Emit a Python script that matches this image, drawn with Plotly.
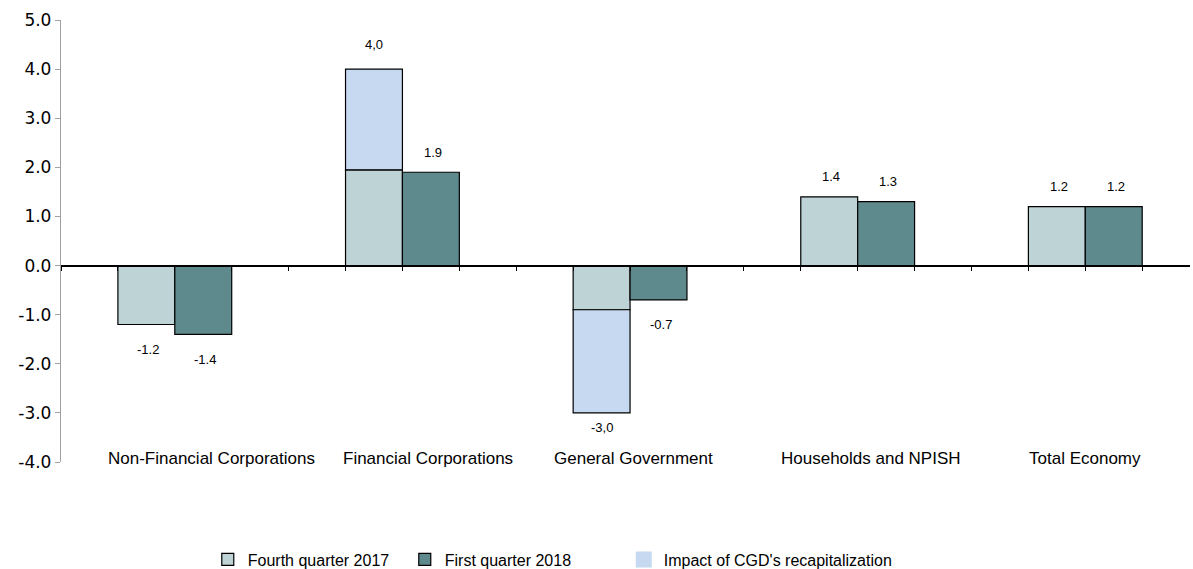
import plotly.graph_objects as go

categories = ["Non-Financial Corporations", "Financial Corporations", "General Government",
              "Households and NPISH", "Total Economy"]
q4_2017 = [-1.2, 1.95, -0.9, 1.4, 1.2]
q1_2018 = [-1.4, 1.9, -0.7, 1.3, 1.2]
cgd_impact = [None, 2.05, -2.1, None, None]
cgd_totals = [None, "4,0", "-3,0", None, None]
y_ticks = [-4, -3, -2, -1, 0, 1, 2, 3, 4, 5]
y_ticktext = [f"{v:.1f}" for v in y_ticks]

# style: horizontal nudges of the category labels (px)
label_xshift = [37, 26, 3, 13, 0]

C_Q4 = "#BED3D6"
C_Q1 = "#5F8A8D"
C_CGD = "#C6D9F0"
BW = 0.25
CGD_NAME = "Impact of CGD's recapitalization"

xs = list(range(len(categories)))
fig = go.Figure()
fig.add_trace(go.Bar(x=xs, y=q4_2017, width=BW, offset=-BW, name="Fourth quarter 2017",
                     legendwidth=152,
                     marker=dict(color=C_Q4, line=dict(color="#000000", width=1.2))))
fig.add_trace(go.Bar(x=xs, y=q1_2018, width=BW, offset=0, name="First quarter 2018",
                     legendwidth=174,
                     marker=dict(color=C_Q1, line=dict(color="#000000", width=1.2))))
fig.add_trace(go.Bar(x=xs, y=cgd_impact, base=q4_2017, width=BW, offset=-BW,
                     name=CGD_NAME, legendgroup="cgd", showlegend=False,
                     marker=dict(color=C_CGD, line=dict(color="#000000", width=1.2))))
# legend entry for the CGD impact: borderless filled swatch, as in the reference
fig.add_trace(go.Scatter(x=[None], y=[None], mode="markers", name=CGD_NAME,
                         legendgroup="cgd", showlegend=True,
                         marker=dict(symbol="square", size=16, color=C_CGD,
                                     line=dict(width=0))))

ann = []
lab_font = dict(family="Liberation Sans, Arial", size=13, color="#000000")
for i in xs:
    for v, dx in ((q4_2017[i], -BW / 2), (q1_2018[i], BW / 2)):
        if dx < 0 and cgd_impact[i] is not None:
            continue
        ann.append(dict(x=i + dx, y=v, xref="x", yref="y", text=f"{v:.1f}", showarrow=False,
                        xshift=2, yshift=20 if v >= 0 else -25, font=lab_font))
    if cgd_impact[i] is not None:
        tot = q4_2017[i] + cgd_impact[i]
        ann.append(dict(x=i - BW / 2, y=tot, xref="x", yref="y", text=cgd_totals[i],
                        showarrow=False, yshift=25 if tot >= 0 else -15, font=lab_font))
    ann.append(dict(x=i, y=-3.93, xref="x", yref="y", text=categories[i], showarrow=False,
                    xshift=label_xshift[i],
                    font=dict(family="Liberation Sans, Arial", size=17, color="#000000")))

dom = [0.1316, 1.0]
ymin, ymax = -4, 5
zero_pos = dom[0] + (dom[1] - dom[0]) * (0 - ymin) / (ymax - ymin)

fig.update_layout(
    width=1193, height=569,
    margin=dict(l=61, r=3, t=20, b=40, autoexpand=False),
    plot_bgcolor="white", paper_bgcolor="white",
    barmode="overlay",
    showlegend=True,
    legend=dict(orientation="h", x=0.13, y=-0.06, xanchor="left", yanchor="middle",
                traceorder="normal", itemsizing="trace",
                font=dict(family="Liberation Sans, Arial", size=16, color="#000000")),
    annotations=ann,
    xaxis=dict(range=[-0.5, 4.46], anchor="free", position=zero_pos, showline=True,
               linecolor="#000000", linewidth=1.5, ticks="outside", tick0=0, dtick=0.25,
               ticklen=5, tickcolor="#000000", showticklabels=False, showgrid=False,
               zeroline=False, automargin=False),
    yaxis=dict(range=[ymin, ymax], domain=dom, tickvals=y_ticks, ticktext=y_ticktext,
               showline=True, linecolor="#A0A0A0", linewidth=1.3, ticks="outside",
               ticklen=5, tickcolor="#A0A0A0", showgrid=False, zeroline=False,
               automargin=False,
               tickfont=dict(family="DejaVu Sans, Verdana", size=17, color="#000000")),
)
fig.write_html("out.html", config={"displayModeBar": False},
               post_script="document.body.style.margin='0px';document.body.style.overflow='hidden';")
